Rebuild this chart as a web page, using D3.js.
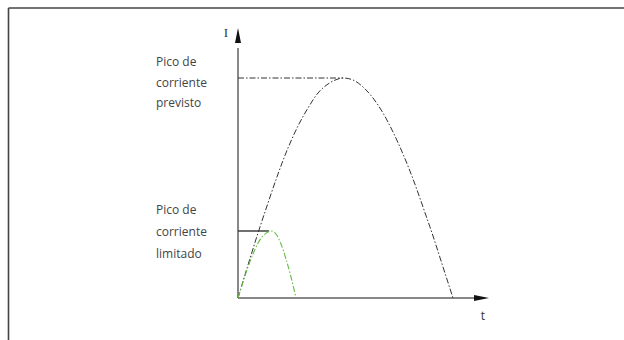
<!DOCTYPE html>
<html>
<head>
<meta charset="utf-8">
<script src="https://cdn.jsdelivr.net/npm/d3@7"></script>
<style>
  html, body { margin: 0; padding: 0; background: #fff; }
  svg { display: block; }
</style>
</head>
<body>
<svg id="chart" width="624" height="340"></svg>
<script>
// ---- data ----
// prospective (unlimited) current: time t, current I
const prospectiveT = [0, 10, 20, 30, 40, 50, 60, 70, 80, 90, 100, 105, 115, 125, 135, 145, 155, 165, 175, 185, 195, 205, 215];
const prospectiveI = [0, 33, 65, 95, 124, 150, 172, 190, 205, 214, 219, 220, 218, 211, 200, 185, 166, 144, 119, 91, 62, 31, 0];
// limited current
const limitedT = [0, 5, 10, 15, 20, 25, 30, 33, 38, 43, 48, 53, 58];
const limitedI = [0, 16, 31, 44, 55, 62, 66, 67, 64, 54, 39, 21, 0];
// peak markers
const peakPrevisto = { t: 105, I: 220 };
const peakLimitado = { t: 31, I: 67 };
// text
const labelPrevisto = ["Pico de", "corriente", "previsto"];
const labelLimitado = ["Pico de", "corriente", "limitado"];
const axisLabelY = "I";
const axisLabelX = "t";

// ---- drawing ----
const svg = d3.select("#chart");
const x = d3.scaleLinear().domain([0, 250]).range([238, 488]);
const y = d3.scaleLinear().domain([0, 270]).range([298, 28]);

// frame (top and left border)
svg.append("line").attr("x1", 8.5).attr("y1", 8).attr("x2", 624).attr("y2", 8)
  .attr("stroke", "#444").attr("stroke-width", 1.6);
svg.append("line").attr("x1", 8.5).attr("y1", 8).attr("x2", 8.5).attr("y2", 340)
  .attr("stroke", "#444").attr("stroke-width", 1.6);

// axes
const axisColor = "#888";
svg.append("line").attr("x1", x(0)).attr("y1", y(0)).attr("x2", x(0)).attr("y2", y(250))
  .attr("stroke", axisColor).attr("stroke-width", 2);
svg.append("line").attr("x1", x(0)).attr("y1", y(0)).attr("x2", x(238)).attr("y2", y(0))
  .attr("stroke", axisColor).attr("stroke-width", 2);
// arrowheads
const yTip = y(270), xTip = x(251);
svg.append("path")
  .attr("d", `M${x(0)},${yTip} L${x(0) - 3},${yTip + 15} L${x(0) + 3},${yTip + 15} Z`)
  .attr("fill", "#111");
svg.append("path")
  .attr("d", `M${xTip},${y(0)} L${xTip - 15},${y(0) - 3} L${xTip - 15},${y(0) + 3} Z`)
  .attr("fill", "#111");

// axis labels
svg.append("text").attr("x", x(0) - 12).attr("y", yTip + 9)
  .attr("text-anchor", "middle")
  .attr("font-family", "Liberation Serif, serif").attr("font-size", 13)
  .attr("fill", "#333").text(axisLabelY);
svg.append("text").attr("x", xTip - 6).attr("y", y(0) + 22)
  .attr("text-anchor", "middle")
  .attr("font-family", "Open Sans, sans-serif").attr("font-size", 12)
  .attr("fill", "#333").text(axisLabelX);

// peak reference lines
svg.append("line")
  .attr("x1", x(0)).attr("y1", y(peakPrevisto.I)).attr("x2", x(peakPrevisto.t)).attr("y2", y(peakPrevisto.I))
  .attr("stroke", "#333").attr("stroke-width", 1).attr("stroke-dasharray", "6,2,1.5,2");
svg.append("line")
  .attr("x1", x(0)).attr("y1", y(peakLimitado.I)).attr("x2", x(peakLimitado.t)).attr("y2", y(peakLimitado.I))
  .attr("stroke", "#333").attr("stroke-width", 1.4);

// curves
const line = d3.line().x(d => x(d[0])).y(d => y(d[1])).curve(d3.curveMonotoneX);
const prospective = prospectiveT.map((t, i) => [t, prospectiveI[i]]);
const limited = limitedT.map((t, i) => [t, limitedI[i]]);

svg.append("path").datum(prospective).attr("d", line)
  .attr("fill", "none").attr("stroke", "#333").attr("stroke-width", 1)
  .attr("stroke-dasharray", "6,2,1.5,2");
svg.append("path").datum(limited).attr("d", line)
  .attr("fill", "none").attr("stroke", "#66bb44").attr("stroke-width", 1.1)
  .attr("stroke-dasharray", "6,2,1.5,2");

// text labels
function block(lines, x0, yBase, step) {
  const t = svg.append("text")
    .attr("font-family", "Open Sans, sans-serif").attr("font-size", 12)
    .attr("fill", "#444");
  lines.forEach((s, i) => {
    t.append("tspan").attr("x", x0).attr("y", yBase + i * step).text(s);
  });
}
block(labelPrevisto, 156, 66, 20.5);
block(labelLimitado, 156, 214, 22);
</script>
</body>
</html>
